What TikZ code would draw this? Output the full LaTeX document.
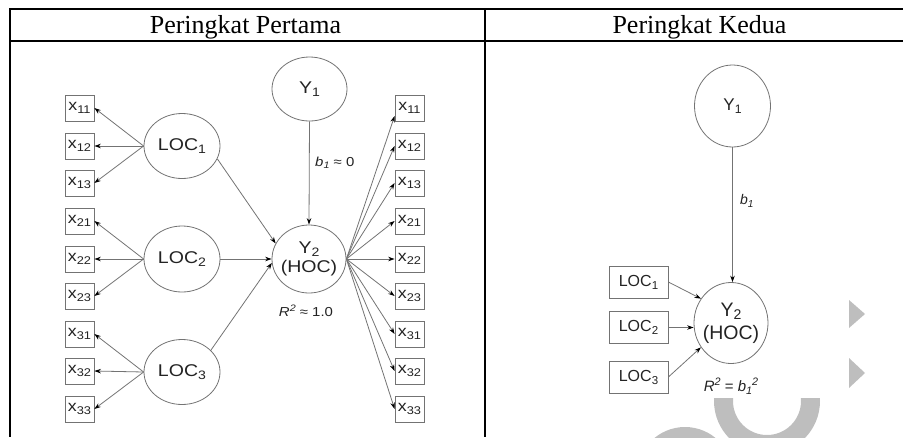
\documentclass[tikz,border=0pt]{standalone}
\usepackage{fontspec}
\usepackage{graphicx}
\setmainfont{Liberation Serif}
\newfontfamily\lsans[FakeStretch=1.15]{Liberation Sans}
\newfontfamily\rsans{Liberation Sans}
\usetikzlibrary{arrows.meta,shapes.geometric}
\definecolor{edgegray}{RGB}{115,115,115}
\definecolor{txt}{RGB}{35,35,35}
\definecolor{wm}{RGB}{190,190,190}
\newcommand{\sbs}[1]{\raisebox{-0.35ex}{\scalebox{0.72}{#1}}}
\newcommand{\sps}[1]{\raisebox{0.75ex}{\scalebox{0.72}{#1}}}
\tikzset{
  rule/.style={line width=2pt, black},
  hdr/.style={anchor=base, inner sep=0pt, font=\fontsize{26}{30}\selectfont},
  ind/.style={draw=edgegray, line width=0.8pt, minimum width=29pt, minimum height=26pt, inner sep=0pt, text=txt, font=\lsans\fontsize{15.5}{15.5}\selectfont},
  locbox/.style={draw=edgegray, line width=0.8pt, minimum width=59pt, minimum height=32pt, inner sep=0pt, text=txt, font=\rsans\fontsize{16}{16}\selectfont},
  lat/.style={ellipse, draw=edgegray, line width=0.8pt, inner sep=0pt, text=txt, align=center},
  lfont/.style={font=\lsans\fontsize{17}{19}\selectfont},
  rfont/.style={font=\rsans\fontsize{19.5}{23}\selectfont},
  lbl/.style={inner sep=0pt, text=txt},
  arr/.style={draw=edgegray, line width=0.8pt, -{Stealth[length=6.5pt,width=4.5pt,color=black,fill=black]}},
}
\begin{document}
\begin{tikzpicture}[x=1pt,y=-1pt]
\useasboundingbox (0,0) rectangle (903,437);
% watermark
\fill[wm] (849,300) -- (865,314) -- (849,328) -- cycle;
\fill[wm] (849,358) -- (865,373) -- (849,388) -- cycle;
\begin{scope}
  \clip (600,398) rectangle (903,437);
  \fill[wm,even odd rule] (767,401) circle[radius=53] (767,401) circle[radius=34];
  \fill[wm] (685,475) circle[radius=48];
\end{scope}
% table
\draw[rule] (10,9) -- (903,9);
\draw[rule] (10,41) -- (903,41);
\draw[rule] (10,8) -- (10,437);
\draw[rule] (485,8) -- (485,437);
\node[hdr] (h1) at (245.5,33.3) {Peringkat Pertama};
\node[hdr] (h2) at (699.5,33.3) {Peringkat Kedua};
% ---------- left diagram ----------
\foreach \n/\y in {11/108,12/146,13/183,21/221,22/259,23/296,31/334,32/371,33/409}{
  \node[ind] (l\n) at (79.5,\y) {x\sbs{\n}};
  \node[ind] (r\n) at (409.5,\y) {x\sbs{\n}};
}
\node[lat,lfont,minimum width=76pt,minimum height=65pt] (loc1) at (182,146) {LOC\sbs{1}};
\node[lat,lfont,minimum width=76pt,minimum height=66pt] (loc2) at (182,259) {LOC\sbs{2}};
\node[lat,lfont,minimum width=76pt,minimum height=65pt] (loc3) at (182,372) {LOC\sbs{3}};
\node[lat,lfont,minimum width=75pt,minimum height=64pt] (y1) at (309.5,89) {Y\sbs{1}};
\node[lat,lfont,minimum width=74pt,minimum height=68pt] (y2) at (309,259) {\makebox[0pt]{Y\sbs{2}}\\\makebox[0pt]{(HOC)}};
\foreach \i in {1,2,3}{
  \foreach \j in {1,2,3}{
    \draw[arr] (loc\i.west) -- (l\i\j.east);
  }
}
\draw[arr] (loc1.-20) -- (y2.155);
\draw[arr] (loc2.east) -- (y2.west);
\draw[arr] (loc3.37) -- (y2.186);
\draw[arr] (y1.south) -- (y2.north);
\draw[arr] (y2.east) -- ([yshift=-8pt]r11.west);
\foreach \n in {12,13,21,22,23,31,32,33}{
  \draw[arr] (y2.east) -- (r\n.west);
}
\node[lbl,anchor=west,font=\lsans\fontsize{13}{13}\selectfont] (b1l) at (315,163) {\itshape b\sbs{1}\upshape{} ≈ 0};
\node[lbl,font=\lsans\fontsize{13}{13}\selectfont] (r2l) at (306,311) {{\itshape R\sps{2}} ≈ 1.0};
% ---------- right diagram ----------
\node[lat,font=\rsans\fontsize{17}{19}\selectfont,minimum width=76pt,minimum height=82pt] (y1r) at (732.5,106) {Y\sbs{1}};
\node[lat,rfont,minimum width=74pt,minimum height=81pt] (y2r) at (731,323) {\makebox[0pt]{Y\sbs{2}}\\\makebox[0pt]{(HOC)}};
\node[locbox] (loc1r) at (638.5,282) {LOC\sbs{1}};
\node[locbox] (loc2r) at (638.5,327.5) {LOC\sbs{2}};
\node[locbox] (loc3r) at (638.5,377) {LOC\sbs{3}};
\draw[arr] (y1r.south) -- (y1r.south |- y2r.north);
\draw[arr] (loc1r.east) -- (y2r.141);
\draw[arr] (loc2r.east) -- (y2r.west |- loc2r.east);
\draw[arr] (loc3r.east) -- (y2r.219);
\node[lbl,anchor=west,font=\rsans\fontsize{14}{14}\selectfont] (b1r) at (740,201) {\itshape b\sbs{1}};
\node[lbl,font=\rsans\fontsize{15}{15}\selectfont] (r2r) at (731,386) {{\itshape R\sps{2}} = {\itshape b\sbs{1}\sps{2}}};
\end{tikzpicture}
\end{document}
